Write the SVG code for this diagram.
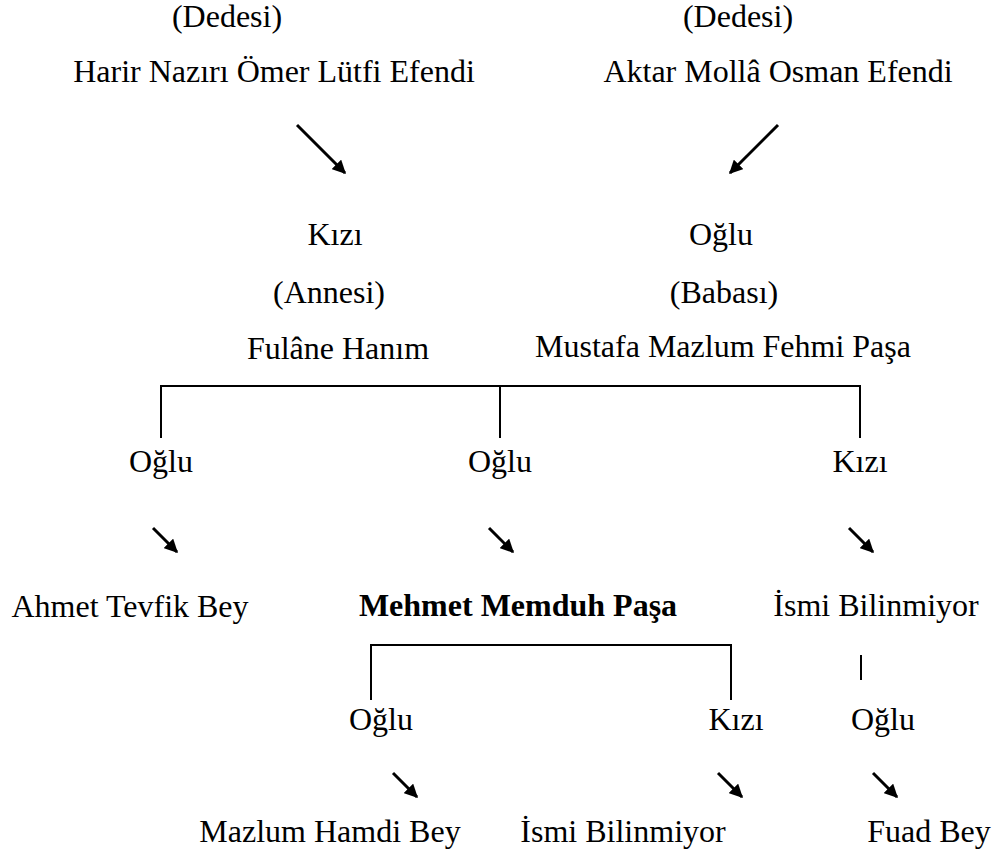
<svg xmlns="http://www.w3.org/2000/svg" width="1000" height="852" viewBox="0 0 1000 852">
<defs>
<style>
text{font-family:"Liberation Serif","Times New Roman",serif;font-size:32px;fill:#000;text-anchor:middle}
.b{font-weight:bold}
.ln{stroke:#000;stroke-width:2;fill:none}
.ar{stroke:#000;stroke-width:3;fill:none;marker-end:url(#ah)}
</style>
<marker id="ah" viewBox="0 0 10 10" refX="9" refY="5" markerWidth="4.5" markerHeight="4.5" orient="auto" markerUnits="strokeWidth">
<path d="M0,0 L10,5 L0,10 Z" fill="#000"/>
</marker>
</defs>
<rect width="1000" height="852" fill="#fff"/>
<g id="n1"><text x="227" y="27">(Dedesi)</text><text x="274" y="82">Harir Nazırı Ömer Lütfi Efendi</text></g>
<g id="n2"><text x="738" y="27">(Dedesi)</text><text x="778" y="82">Aktar Mollâ Osman Efendi</text></g>
<g id="n3"><text x="335" y="245">Kızı</text><text x="329" y="303">(Annesi)</text><text x="338" y="359">Fulâne Hanım</text></g>
<g id="n4"><text x="721" y="245">Oğlu</text><text x="724" y="303">(Babası)</text><text x="723" y="357">Mustafa Mazlum Fehmi Paşa</text></g>
<g id="n5"><text x="161" y="472">Oğlu</text></g>
<g id="n6"><text x="500" y="472">Oğlu</text></g>
<g id="n7"><text x="860" y="472">Kızı</text></g>
<g id="n8"><text x="130" y="617">Ahmet Tevfik Bey</text></g>
<g id="n9"><text class="b" x="518" y="616">Mehmet Memduh Paşa</text></g>
<g id="n10"><text x="876" y="616">İsmi Bilinmiyor</text></g>
<g id="n11"><text x="381" y="730">Oğlu</text></g>
<g id="n12"><text x="736" y="730">Kızı</text></g>
<g id="n13"><text x="883" y="730">Oğlu</text></g>
<g id="n14"><text x="330" y="842">Mazlum Hamdi Bey</text></g>
<g id="n15"><text x="623" y="842">İsmi Bilinmiyor</text></g>
<g id="n16"><text x="929" y="842">Fuad Bey</text></g>
<g id="connectors">
<path class="ar" d="M297,125 L345,173"/>
<path class="ar" d="M778,125 L730,173"/>
<path class="ln" d="M161,438 V386 H860 V438 M500,386 V438"/>
<path class="ln" d="M371,700 V645 H731 V700"/>
<path class="ln" d="M861,655 V680"/>
<path class="ar" d="M153,528 L177,552"/>
<path class="ar" d="M489,528 L513,552"/>
<path class="ar" d="M849,528 L873,552"/>
<path class="ar" d="M393,773 L417,797"/>
<path class="ar" d="M718,773 L742,797"/>
<path class="ar" d="M873,773 L897,797"/>
</g>
</svg>
